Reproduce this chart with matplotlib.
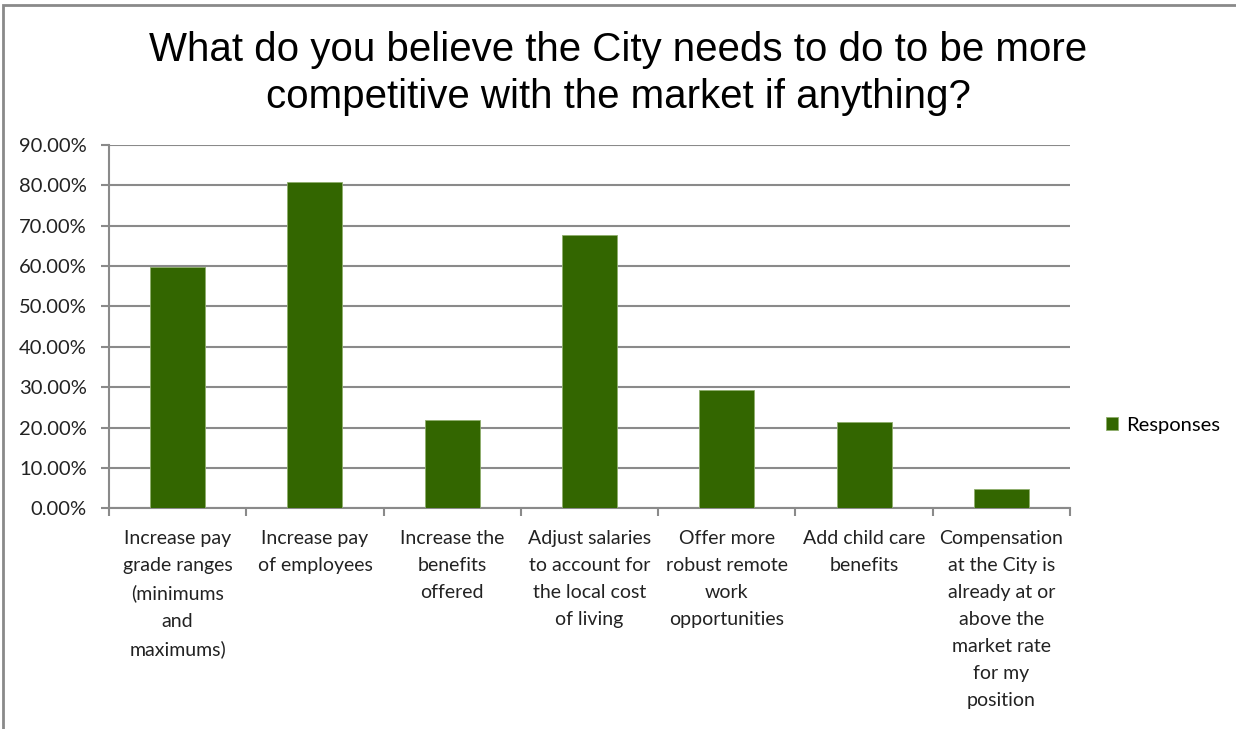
import matplotlib.pyplot as plt
from matplotlib.patches import Rectangle
from matplotlib.ticker import FuncFormatter, FixedLocator
import numpy as np

# survey answers and share of respondents (%)
categories = [
    "Increase pay\ngrade ranges\n(minimums\nand\nmaximums)",
    "Increase pay\nof employees",
    "Increase the\nbenefits\noffered",
    "Adjust salaries\nto account for\nthe local cost\nof living",
    "Offer more\nrobust remote\nwork\nopportunities",
    "Add child care\nbenefits",
    "Compensation\nat the City is\nalready at or\nabove the\nmarket rate\nfor my\nposition",
]
responses = [59.7, 80.9, 21.8, 67.6, 29.3, 21.3, 4.7]
yticks = [0, 10, 20, 30, 40, 50, 60, 70, 80, 90]

GREEN = "#336600"
GRID = "#8a8a8a"
LABEL_FONT = ["Lato", "DejaVu Sans"]

fig = plt.figure(figsize=(12.36, 7.29), dpi=100)
ax = fig.add_axes([0.0882, 0.3027, 0.7775, 0.4985])

x = np.arange(len(categories))
ax.bar(x, responses, width=0.4, color=GREEN, edgecolor="#8fae6c",
       linewidth=0.6, zorder=3, label="Responses")

ax.set_xlim(-0.5, len(categories) - 0.5)
ax.set_ylim(0, 90)
ax.set_yticks(yticks)
ax.yaxis.set_major_formatter(FuncFormatter(lambda v, _: f"{v:.2f}%"))
ax.yaxis.grid(True, color=GRID, linewidth=1.5, zorder=0)

# category ticks sit between the bars
ax.xaxis.set_major_locator(FixedLocator(np.arange(len(categories) + 1) - 0.5))
ax.xaxis.set_major_formatter(FuncFormatter(lambda v, _: ""))
ax.tick_params(axis="x", length=6, width=1.5, color=GRID, direction="out")
ax.tick_params(axis="y", length=6, width=1.5, color=GRID, direction="out",
               labelsize=14.5, labelcolor="#222222", pad=10)
for lbl in ax.get_yticklabels():
    lbl.set_family(LABEL_FONT)

for i, cat in enumerate(categories):
    ax.text(i, -5.3, cat, ha="center", va="top", fontsize=14,
            family=LABEL_FONT, color="#222222", linespacing=1.72,
            transform=ax.transData, clip_on=False)

for side in ["top", "right"]:
    ax.spines[side].set_visible(False)
for side in ["left", "bottom"]:
    ax.spines[side].set_color(GRID)
    ax.spines[side].set_linewidth(1.5)

fig.suptitle("What do you believe the City needs to do to be more\n"
             "competitive with the market if anything?",
             y=0.958, fontsize=29, family="Liberation Sans", linespacing=1.32)

# legend at the right side
fig.legend(loc="center left", bbox_to_anchor=(0.88, 0.417), frameon=False,
           prop={"family": LABEL_FONT, "size": 14.5}, handlelength=0.6,
           handleheight=0.6, handletextpad=0.4)

# chart area frame
fig.patches.append(Rectangle((3 / 1236, -0.1), 1.2, 1 - 5 / 729 + 0.1,
                             transform=fig.transFigure, fill=False,
                             edgecolor="#8a8a8a", linewidth=2))

fig.savefig("out.png", dpi=100)
